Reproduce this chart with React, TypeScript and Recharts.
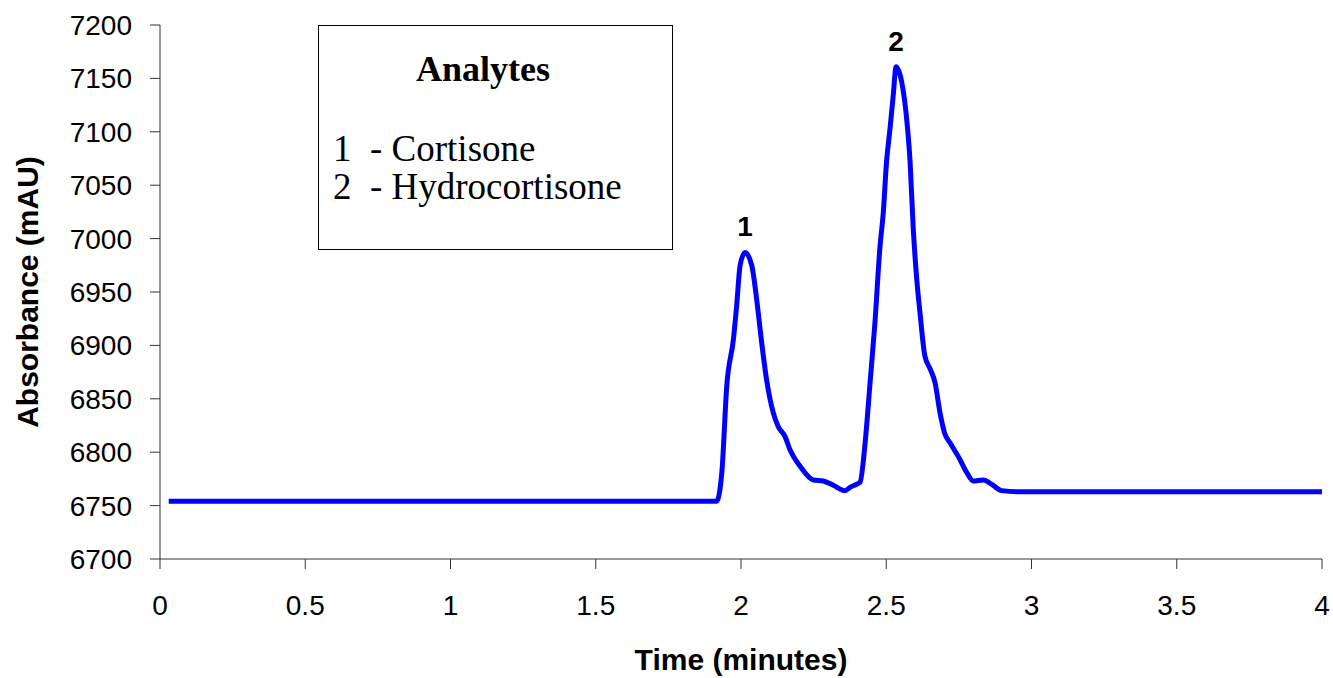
import React from "react";
import { LineChart, Line, XAxis, YAxis, ReferenceDot } from "recharts";

// chromatogram trace
const times = [
  0.03, 1.0, 1.916, 1.934, 1.951, 1.974, 1.985, 1.997, 2.014, 2.037, 2.054,
  2.071, 2.088, 2.111, 2.128, 2.151, 2.169, 2.203, 2.249, 2.283, 2.318,
  2.358, 2.375, 2.398, 2.41, 2.427, 2.444, 2.461, 2.478, 2.49, 2.501, 2.513,
  2.524, 2.534, 2.553, 2.571, 2.582, 2.593, 2.605, 2.616, 2.633, 2.651,
  2.668, 2.685, 2.702, 2.719, 2.754, 2.777, 2.8, 2.834, 2.863, 2.897, 2.95,
  3.5, 4.0,
];
const absorbance = [
  6754, 6754, 6754, 6781, 6862, 6906, 6937, 6975, 6987, 6975, 6943, 6903,
  6868, 6837, 6824, 6815, 6802, 6787, 6774, 6773, 6769, 6764, 6767, 6770,
  6772, 6808, 6864, 6921, 6991, 7025, 7072, 7103, 7134, 7161, 7147, 7110,
  7072, 7009, 6962, 6931, 6890, 6878, 6865, 6837, 6817, 6809, 6793, 6781,
  6773, 6774, 6770, 6764, 6763, 6763, 6763,
];

const xTicks = [0, 0.5, 1, 1.5, 2, 2.5, 3, 3.5, 4];
const yTicks = [6700, 6750, 6800, 6850, 6900, 6950, 7000, 7050, 7100, 7150, 7200];

const peakNames = ["1", "2"];
const peakTimes = [2.014, 2.534];
const peakValues = [6987, 7161];

const analytesTitle = "Analytes";
const analytes = ["1  - Cortisone", "2  - Hydrocortisone"];

const data = times.map((t, i) => ({ t, v: absorbance[i] }));

const sans = "'Liberation Sans', Arial, sans-serif";
const serif = "'Liberation Serif', 'Times New Roman', serif";

export default function App() {
  return (
    <div
      style={{
        position: "absolute",
        left: 0,
        top: 0,
        width: 1333,
        height: 678,
        background: "#fff",
      }}
    >
      <LineChart
        width={1333}
        height={678}
        data={data}
        margin={{ top: 25, right: 11, left: 0, bottom: 0 }}
      >
        <XAxis
          dataKey="t"
          type="number"
          domain={[0, 4]}
          ticks={xTicks}
          height={119}
          stroke="#333"
          tickSize={10}
          tickMargin={26}
          tick={{ fill: "#000", fontSize: 28, fontFamily: sans }}
          label={{
            value: "Time (minutes)",
            position: "insideBottom",
            offset: 8,
            fill: "#000",
            fontSize: 30,
            fontWeight: "bold",
            fontFamily: sans,
          }}
        />
        <YAxis
          type="number"
          domain={[6700, 7200]}
          ticks={yTicks}
          width={160}
          stroke="#333"
          tickSize={10}
          tickMargin={18}
          tick={{ fill: "#000", fontSize: 28, fontFamily: sans }}
          label={{
            value: "Absorbance (mAU)",
            angle: -90,
            position: "insideLeft",
            offset: 27,
            fill: "#000",
            fontSize: 30,
            fontWeight: "bold",
            fontFamily: sans,
            style: { textAnchor: "middle" },
          }}
        />
        <Line
          type="monotone"
          dataKey="v"
          stroke="#0000ff"
          strokeWidth={5}
          dot={false}
          isAnimationActive={false}
        />
        {peakNames.map((name, i) => (
          <ReferenceDot
            key={name}
            x={peakTimes[i]}
            y={peakValues[i]}
            r={0}
            fill="none"
            stroke="none"
            label={{
              value: name,
              position: "top",
              offset: 16,
              fill: "#000",
              fontSize: 28,
              fontWeight: "bold",
              fontFamily: sans,
            }}
          />
        ))}
      </LineChart>

      {/* legend box */}
      <div
        style={{
          position: "absolute",
          left: 318,
          top: 25,
          width: 353,
          height: 223,
          border: "1.5px solid #000",
          fontFamily: serif,
          color: "#000",
        }}
      >
        <div
          style={{
            position: "absolute",
            left: 0,
            width: 328,
            top: 25,
            textAlign: "center",
            fontSize: 36,
            lineHeight: "36px",
            fontWeight: "bold",
          }}
        >
          {analytesTitle}
        </div>
        {analytes.map((a, i) => (
          <div
            key={a}
            style={{
              position: "absolute",
              left: 14,
              top: 104 + i * 38,
              fontSize: 37,
              lineHeight: "37px",
              whiteSpace: "pre",
            }}
          >
            {a}
          </div>
        ))}
      </div>
    </div>
  );
}
